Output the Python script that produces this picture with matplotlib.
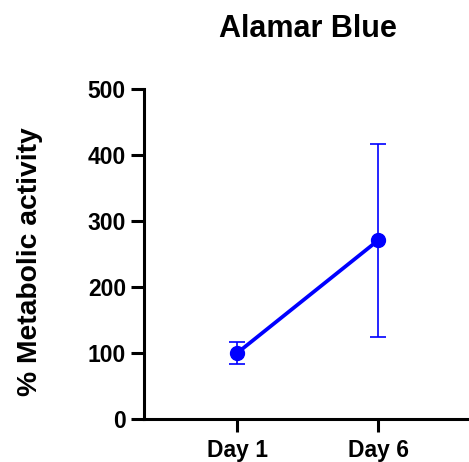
import matplotlib
matplotlib.use("Agg")
import matplotlib.pyplot as plt

categories = ["Day 1", "Day 6"]
means = [100, 271]
errors = [17, 146]
yticks = [0, 100, 200, 300, 400, 500]

plt.rcParams['font.family'] = ['Liberation Sans', 'DejaVu Sans']
plt.rcParams['font.weight'] = 'bold'

fig = plt.figure(figsize=(4.69, 4.62), dpi=100)
ax = fig.add_axes([0.307, 0.093, 0.689, 0.714])

x = list(range(len(categories)))
ax.errorbar(x, means, yerr=errors, color='#0000ff', ecolor='#0000ff',
            elinewidth=1.2, capsize=6, capthick=1.2, zorder=2, fmt='none')
ax.plot(x, means, color='#0000ff', lw=2.7, marker='o', markersize=10, zorder=3)

ax.set_xlim(-0.66, 1.63)
ax.set_ylim(0, 500)
ax.set_yticks(yticks)
ax.set_xticks(x)
ax.set_xticklabels(categories)
for s in ['top', 'right']:
    ax.spines[s].set_visible(False)
for s in ['left', 'bottom']:
    ax.spines[s].set_linewidth(2.2)
ax.tick_params(axis='both', width=2.2, length=9.5, labelsize=16.5, direction='out')
ax.tick_params(axis='x', pad=5)
ax.tick_params(axis='y', pad=3.5)
for lab in ax.get_xticklabels() + ax.get_yticklabels():
    lab.set_fontweight('bold')
ax.set_ylabel("% Metabolic activity", fontsize=20.3, fontweight='bold')
ax.yaxis.set_label_coords(-0.312, 0.476)
fig.text(308 / 469, 1 - 37 / 462, "Alamar Blue", fontsize=22, fontweight='bold',
         ha='center', va='baseline')

fig.savefig("out.png", dpi=100)
